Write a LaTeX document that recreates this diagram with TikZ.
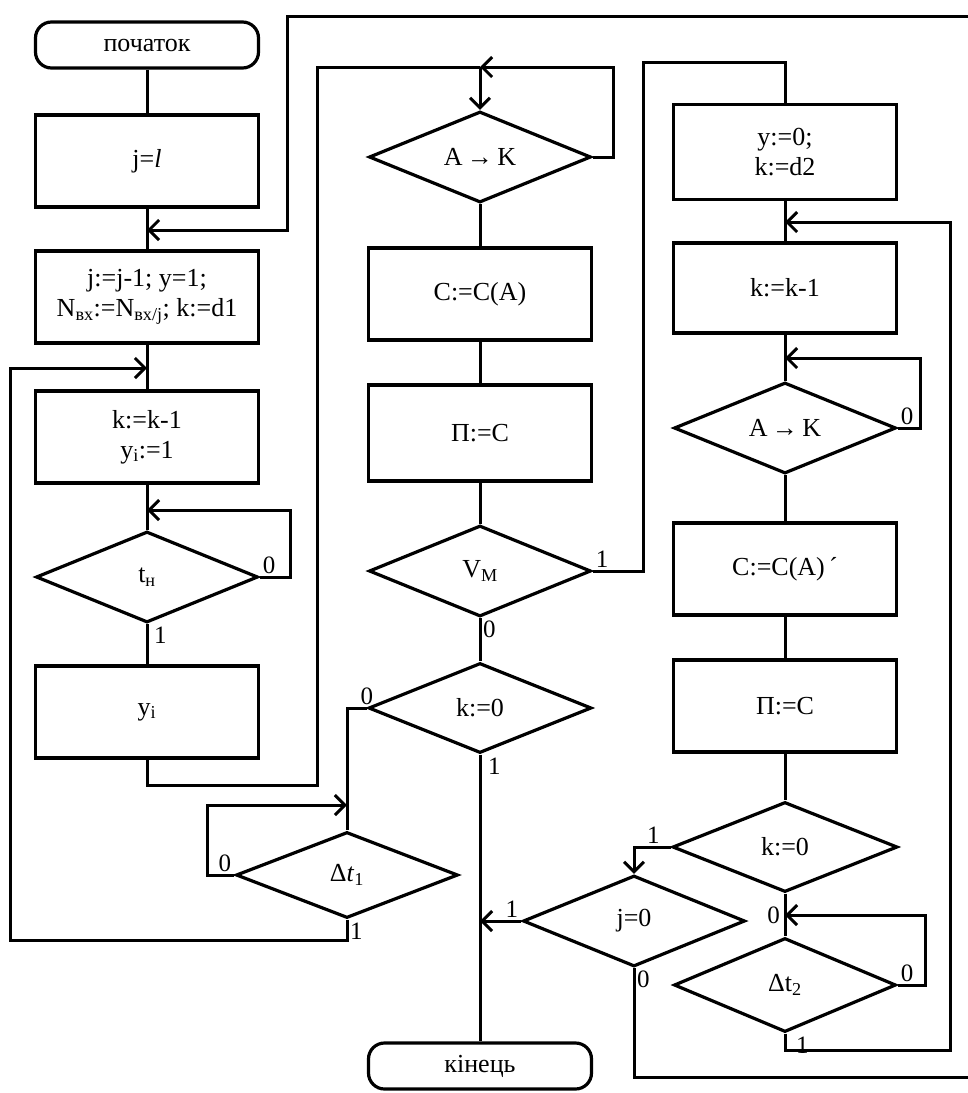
\documentclass[tikz,border=0pt]{standalone}
\usepackage{fontspec}
\setmainfont{Liberation Serif}
\usetikzlibrary{shapes.geometric,arrows.meta}

\tikzset{
  txt/.style={font=\fontsize{26}{30}\selectfont},
  proc/.style={draw, line width=3.2pt, rectangle, minimum width=223pt,
               minimum height=92pt, inner sep=2pt, align=center, txt},
  term/.style={draw, line width=3.2pt, rectangle, rounded corners=16pt,
               minimum width=223pt, minimum height=46pt, inner sep=2pt, txt},
  cond/.style={draw, line width=3.2pt, diamond, aspect=2.4, inner sep=0pt,
               minimum width=222pt, minimum height=91pt, txt},
  flow/.style={line width=3pt},
  into/.style={flow, -{Straight Barb[length=10pt,width=20pt]}},
  lbl/.style={font=\fontsize{25}{25}\selectfont, inner sep=3pt}
}

\begin{document}
\begin{tikzpicture}[x=1pt, y=-1pt]
\useasboundingbox (0,0) rectangle (968,1093);

% ---- left column ----
\node[term] (start) at (147,45)  {початок};
\node[proc] (jl)    at (147,161) {j=\textit{l}};
\node[proc] (b3)    at (147,297) {j:=j-1; y=1;\\N\textsubscript{вх}:=N\textsubscript{вх/j}; k:=d1};
\node[proc] (b4)    at (147,437) {k:=k-1\\y\textsubscript{i}:=1};
\node[cond] (ts)    at (147,577) {t\textsubscript{н}};
\node[proc] (yi)    at (147,712) {y\textsubscript{i}};

% ---- middle column ----
\node[cond] (ak1)  at (480,157) {A\,→\,K};
\node[proc] (cca)  at (480,294) {C:=C(A)};
\node[proc, minimum height=96pt] (pc1) at (480,433) {П:=C};
\node[cond] (vm)   at (480,571) {V\textsubscript{М}};
\node[cond, minimum width=223pt, minimum height=90pt] (kz1) at (480,708) {k:=0};
\node[cond, minimum height=86pt] (dt1) at (347,875) {Δ\textit{t}\textsubscript{1}};
\node[term] (end)  at (480,1066) {кінець};

% ---- right column ----
\node[proc, minimum height=95pt] (y0) at (785,152) {y:=0;\\k:=d2};
\node[proc, minimum height=90pt] (kk) at (785,288) {k:=k-1};
\node[cond] (ak2)  at (785,428) {A\,→\,K};
\node[proc] (cca2) at (785,569) {C:=C(A)\,´};
\node[proc] (pc2)  at (785,706) {П:=C};
\node[cond, minimum width=225pt, minimum height=90pt] (kz2) at (785,847) {k:=0};
\node[cond] (j0)   at (634,921) {j=0};
\node[cond, minimum height=94pt] (dt2) at (785,985) {Δt\textsubscript{2}};

% ---- junction and bend points ----
\coordinate (m1) at (147,230);
\coordinate (ra) at (634,1077);
\coordinate (rb) at (985,1077);
\coordinate (rc) at (985,16);
\coordinate (rd) at (287,16);
\coordinate (re) at (287,230);

\coordinate (m2) at (147,368);
\coordinate (la) at (347,940);
\coordinate (lb) at (10,940);
\coordinate (lc) at (10,368);

\coordinate (m3) at (147,510);
\coordinate (sa) at (290,577);
\coordinate (sb) at (290,510);

\coordinate (ya) at (147,785);
\coordinate (yb) at (317,785);
\coordinate (yc) at (317,67);
\coordinate (m4) at (480,67);
\coordinate (aa) at (613,157);
\coordinate (ab) at (613,67);

\coordinate (va) at (643,571);
\coordinate (vb) at (643,62);
\coordinate (vc) at (785,62);

\coordinate (ka) at (347,708);
\coordinate (m5) at (347,805);
\coordinate (da) at (207,875);
\coordinate (db) at (207,805);
\coordinate (m6) at (480,921);

\coordinate (m7) at (785,222);
\coordinate (ta) at (785,1050);
\coordinate (tb) at (950,1050);
\coordinate (tc) at (950,222);

\coordinate (m8) at (785,358);
\coordinate (ea) at (920,428);
\coordinate (eb) at (920,358);

\coordinate (ja) at (634,847);
\coordinate (m9) at (785,915);
\coordinate (fa) at (925,985);
\coordinate (fb) at (925,915);

% ---- left column flow ----
\draw[flow] (start.south) -- (jl.north);
\draw[flow] (jl.south) -- (b3.north);
\draw[into] (j0.south) -- (ra) -- (rb) -- (rc) -- (rd) -- (re) -- (m1);
\draw[flow] (b3.south) -- (b4.north);
\draw[into] (dt1.south) -- (la) -- (lb) -- (lc) -- (m2);
\draw[flow] (b4.south) -- (ts.north);
\draw[into] (ts.east) -- (sa) -- (sb) -- (m3);
\draw[flow] (ts.south) -- (yi.north);
\draw[flow] (yi.south) -- (ya) -- (yb) -- (yc) -- (m4);

% ---- middle column flow ----
\draw[into] (m4) -- (ak1.north);
\draw[into] (ak1.east) -- (aa) -- (ab) -- (m4);
\draw[flow] (ak1.south) -- (cca.north);
\draw[flow] (cca.south) -- (pc1.north);
\draw[flow] (pc1.south) -- (vm.north);
\draw[flow] (vm.east) -- (va) -- (vb) -- (vc) -- (y0.north);
\draw[flow] (vm.south) -- (kz1.north);
\draw[flow] (kz1.west) -- (ka) -- (dt1.north);
\draw[into] (dt1.west) -- (da) -- (db) -- (m5);
\draw[flow] (kz1.south) -- (end.north);
\draw[into] (j0.west) -- (m6);

% ---- right column flow ----
\draw[flow] (y0.south) -- (kk.north);
\draw[into] (dt2.south) -- (ta) -- (tb) -- (tc) -- (m7);
\draw[flow] (kk.south) -- (ak2.north);
\draw[into] (ak2.east) -- (ea) -- (eb) -- (m8);
\draw[flow] (ak2.south) -- (cca2.north);
\draw[flow] (cca2.south) -- (pc2.north);
\draw[flow] (pc2.south) -- (kz2.north);
\draw[into] (kz2.west) -- (ja) -- (j0.north);
\draw[flow] (kz2.south) -- (dt2.north);
\draw[into] (dt2.east) -- (fa) -- (fb) -- (m9);

% ---- branch labels ----
\node[lbl, anchor=south west] at (ts.east) {0};
\node[lbl, anchor=north west, xshift=4pt] at (ts.south) {1};
\node[lbl, anchor=south west] at (vm.east) {1};
\node[lbl, anchor=north west] at (vm.south) {0};
\node[lbl, anchor=south] at (kz1.west) {0};
\node[lbl, anchor=north west, xshift=5pt] at (kz1.south) {1};
\node[lbl, anchor=south east] at (dt1.west) {0};
\node[lbl, anchor=north west] at (dt1.south) {1};
\node[lbl, anchor=south east] at (j0.west) {1};
\node[lbl, anchor=north west] at (j0.south) {0};
\node[lbl, anchor=south east, xshift=-8pt] at (kz2.west) {1};
\node[lbl, anchor=east, xshift=-2pt] at (m9) {0};
\node[lbl, anchor=south west] at (dt2.east) {0};
\node[lbl, anchor=north west, xshift=8pt] at (dt2.south) {1};
\node[lbl, anchor=south west] at (ak2.east) {0};
\end{tikzpicture}
\end{document}
